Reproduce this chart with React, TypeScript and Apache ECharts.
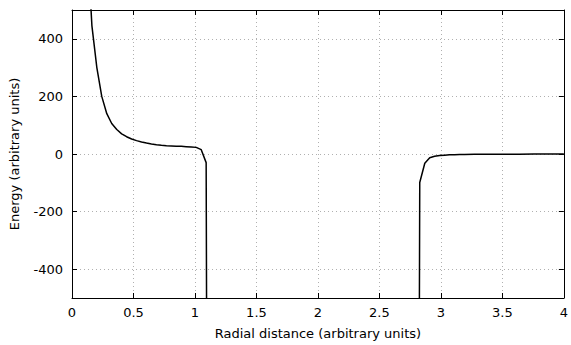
import React, { useEffect, useRef } from "react";
import * as echarts from "echarts";

// Branch inside the inner region (r < ~1.09)
const innerX = [0.121, 0.162, 0.202, 0.242, 0.283, 0.323, 0.364, 0.404, 0.444, 0.485, 0.525, 0.566, 0.606, 0.646, 0.687, 0.727, 0.768, 0.808, 0.848, 0.889, 0.929, 0.970, 1.010, 1.051, 1.091, 1.131];
const innerE = [760, 445, 300, 200, 140, 106, 85, 70, 60, 52, 46.5, 42, 38, 35, 32.5, 30.5, 29, 28, 27, 26.5, 25.5, 24.5, 23, 15, -30, -6000];

// Branch in the outer region (r > ~2.8)
const outerX = [2.788, 2.828, 2.869, 2.909, 2.949, 2.990, 3.030, 3.071, 3.111, 3.152, 3.192, 3.273, 3.354, 3.434, 3.515, 3.636, 3.758, 3.879, 4.0];
const outerE = [-6000, -99, -32, -13, -8, -5, -4, -3, -2.5, -2, -1.7, -1.3, -1.1, -0.9, -0.7, -0.5, -0.3, -0.2, -0.1];

const xTicks = { min: 0, max: 4, interval: 0.5 };
const yRange = { min: -500, max: 500 };

const xName = "Radial distance (arbitrary units)";
const yName = "Energy (arbitrary units)";

const font = "DejaVu Sans";

export default function App() {
  const ref = useRef<HTMLDivElement>(null);
  useEffect(() => {
    if (!ref.current) return;
    const chart = echarts.init(ref.current, undefined, { renderer: "svg" });
    const axisLineStyle = { color: "#000", width: 1 };
    const grid = { color: "#b0b0b0", type: [1, 3] as any, width: 1 };
    chart.setOption({
      animation: false,
      backgroundColor: "#fff",
      grid: { left: 72, right: 4, top: 10, bottom: 47, containLabel: false },
      xAxis: [
        {
          type: "value",
          min: xTicks.min,
          max: xTicks.max,
          interval: xTicks.interval,
          position: "bottom",
          name: xName,
          nameLocation: "middle",
          nameGap: 29,
          nameTextStyle: { fontFamily: font, fontSize: 13, color: "#000" },
          axisLine: { show: true, onZero: false, lineStyle: axisLineStyle },
          axisTick: { show: true, inside: true, length: 5, lineStyle: axisLineStyle },
          axisLabel: {
            fontFamily: font,
            fontSize: 13,
            color: "#000",
            margin: 8,
            formatter: (v: number) => String(v),
          },
          splitLine: { show: true, lineStyle: grid },
        },
        {
          type: "value",
          min: xTicks.min,
          max: xTicks.max,
          interval: xTicks.interval,
          position: "top",
          axisLine: { show: true, onZero: false, lineStyle: axisLineStyle },
          axisTick: { show: true, inside: true, length: 5, lineStyle: axisLineStyle },
          axisLabel: { show: false },
          splitLine: { show: false },
        },
      ],
      yAxis: [
        {
          type: "value",
          min: yRange.min,
          max: yRange.max,
          splitNumber: 5,
          position: "left",
          name: yName,
          nameLocation: "middle",
          nameGap: 51,
          nameTextStyle: { fontFamily: font, fontSize: 13, color: "#000" },
          axisLine: { show: true, onZero: false, lineStyle: axisLineStyle },
          axisTick: { show: true, inside: true, length: 5, lineStyle: axisLineStyle },
          axisLabel: {
            fontFamily: font,
            fontSize: 13,
            color: "#000",
            margin: 9,
            showMinLabel: false,
            showMaxLabel: false,
          },
          splitLine: { show: true, lineStyle: grid },
        },
        {
          type: "value",
          min: yRange.min,
          max: yRange.max,
          splitNumber: 5,
          position: "right",
          axisLine: { show: true, onZero: false, lineStyle: axisLineStyle },
          axisTick: { show: true, inside: true, length: 5, lineStyle: axisLineStyle },
          axisLabel: { show: false },
          splitLine: { show: false },
        },
      ],
      series: [
        {
          type: "line",
          xAxisIndex: 0,
          yAxisIndex: 0,
          data: innerX.map((x, i) => [x, innerE[i]]),
          showSymbol: false,
          symbol: "none",
          clip: true,
          lineStyle: { color: "#000", width: 1.5 },
          itemStyle: { color: "#000" },
        },
        {
          type: "line",
          xAxisIndex: 0,
          yAxisIndex: 0,
          data: outerX.map((x, i) => [x, outerE[i]]),
          showSymbol: false,
          symbol: "none",
          clip: true,
          lineStyle: { color: "#000", width: 1.5 },
          itemStyle: { color: "#000" },
        },
      ],
    });
    return () => chart.dispose();
  }, []);
  return (
    <div
      ref={ref}
      style={{ position: "fixed", left: 0, top: 0, width: 571, height: 345 }}
    />
  );
}
